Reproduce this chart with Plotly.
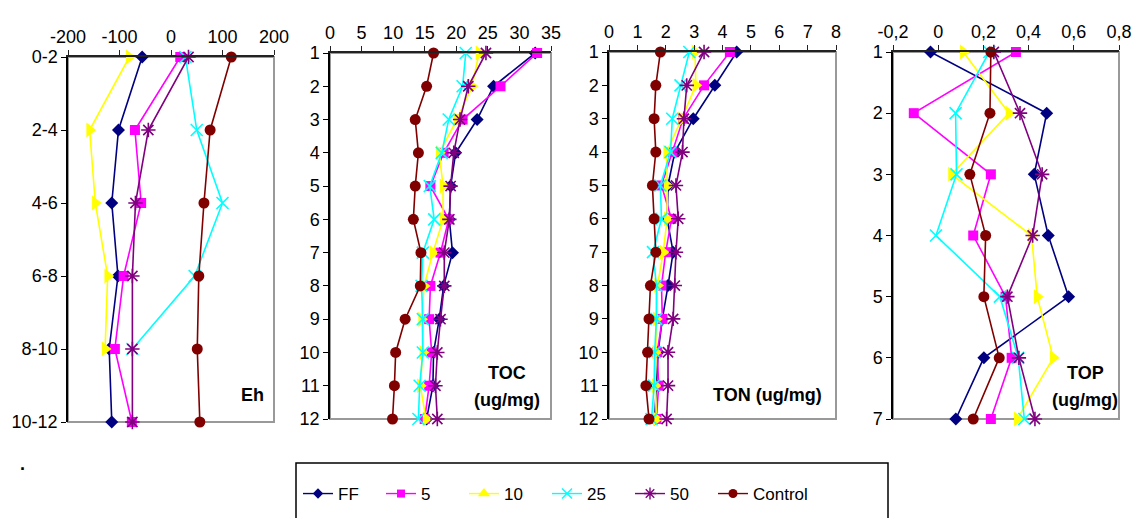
import plotly.graph_objects as go

W, H = 1139, 518

series = ["FF", "5", "10", "25", "50", "Control"]
colors = {"FF": "#000080", "5": "#FF00FF", "10": "#FFFF00", "25": "#00FFFF", "50": "#800080", "Control": "#800000"}
symbols = {"FF": "diamond", "5": "square", "10": "triangle-right", "25": "x-thin-open", "50": "asterisk-open", "Control": "circle"}
legend_symbols = {"FF": "diamond", "5": "square", "10": "triangle-up", "25": "x-thin-open", "50": "asterisk-open", "Control": "circle"}
sizes = {"FF": 10, "5": 10, "10": 13, "25": 12, "50": 12, "Control": 11}

# Eh panel
eh_depths = ["0-2", "2-4", "4-6", "6-8", "8-10", "10-12"]
eh = {
    "FF": [-56, -102, -115, -103, -120, -115],
    "5": [18, -70, -58, -92, -109, -76],
    "10": [-81, -158, -147, -123, -128, None],
    "25": [28, 50, 100, 46, -75, None],
    "50": [34, -44, -69, -75, -75, -75],
    "Control": [117, 76, 64, 54, 51, 56],
}

# TOC panel
toc_depths = list(range(1, 13))
toc = {
    "FF": [32.5, 25.9, 23.3, 19.9, 19.1, 18.9, 19.4, 18.0, 17.3, 16.4, 16.3, 15.3],
    "5": [32.8, 27.0, 21.0, 18.0, 15.9, 18.8, 17.5, 15.9, 15.7, 16.1, 15.7, 15.0],
    "10": [23.6, 22.5, 20.1, 17.3, 17.9, 17.9, 16.3, 14.9, 14.5, 14.7, 14.3, 15.2],
    "25": [21.5, 21.0, 18.8, 17.7, 15.8, 16.5, 14.7, 14.5, 14.7, 14.7, 14.2, 14.0],
    "50": [24.7, 21.9, 20.6, 19.6, 19.1, 18.9, 18.1, 18.1, 17.5, 17.0, 16.7, 17.0],
    "Control": [16.4, 15.3, 13.5, 14.0, 13.5, 13.2, 14.4, 14.3, 11.9, 10.4, 10.2, 9.9],
}

# TON panel
ton_depths = list(range(1, 13))
ton = {
    "FF": [4.50, 3.73, 2.97, 2.32, 2.08, 2.05, 2.26, 2.08, 1.88, 1.73, 1.67, 1.61],
    "5": [4.26, 3.35, 2.61, 2.24, 1.85, 2.20, 2.00, 1.85, 1.88, 1.70, 1.75, 1.67],
    "10": [3.03, 3.06, 2.56, 2.03, 2.05, 2.05, 1.91, 1.71, 1.67, 1.65, 1.63, 1.67],
    "25": [2.83, 2.52, 2.23, 2.17, 1.81, 1.85, 1.55, 1.67, 1.67, 1.61, 1.59, 1.50],
    "50": [3.35, 2.74, 2.64, 2.59, 2.36, 2.44, 2.36, 2.32, 2.26, 2.08, 2.08, 2.03],
    "Control": [1.81, 1.65, 1.59, 1.65, 1.53, 1.59, 1.65, 1.46, 1.41, 1.36, 1.30, 1.41],
}

# TOP panel
top_depths = list(range(1, 8))
top = {
    "FF": [-0.034, 0.48, 0.425, 0.487, 0.577, 0.202, 0.078],
    "5": [0.344, -0.108, 0.233, 0.155, 0.298, 0.325, 0.233],
    "10": [0.111, 0.313, 0.059, 0.413, 0.438, 0.509, 0.35],
    "25": [0.226, 0.077, 0.081, -0.01, 0.273, 0.354, 0.381],
    "50": [0.246, 0.362, 0.46, 0.418, 0.306, 0.357, 0.428],
    "Control": [0.233, 0.229, 0.140, 0.21, 0.202, 0.27, 0.155],
}

eh_ticks = [-200, -100, 0, 100, 200]
eh_ticklabels = ["-200", "-100", "0", "100", "200"]
toc_ticks = [0, 5, 10, 15, 20, 25, 30, 35]
ton_ticks = [0, 1, 2, 3, 4, 5, 6, 7, 8]
top_ticks = [-0.2, 0, 0.2, 0.4, 0.6, 0.8]
top_ticklabels = ["-0,2", "0", "0,2", "0,4", "0,6", "0,8"]

FONT = "Liberation Sans, Arial, sans-serif"

fig = go.Figure()

panels = [
    (eh, list(range(len(eh_depths))), "x", "y"),
    (toc, toc_depths, "x2", "y2"),
    (ton, ton_depths, "x3", "y3"),
    (top, top_depths, "x4", "y4"),
]

for data, depths, xa, ya in panels:
    for s in series:
        c = colors[s]
        sym = symbols[s]
        open_sym = sym.endswith("open")
        fig.add_trace(go.Scatter(
            x=data[s], y=depths, xaxis=xa, yaxis=ya,
            mode="lines+markers", showlegend=False,
            line=dict(color=c, width=1.6),
            marker=dict(symbol=sym, size=sizes[s], color=c,
                        line=dict(color=c, width=1.6 if open_sym else 0)),
            connectgaps=False, cliponaxis=False,
        ))

# legend entries
for s in series:
    c = colors[s]
    sym = legend_symbols[s]
    open_sym = sym.endswith("open")
    fig.add_trace(go.Scatter(
        x=[None], y=[None], name=s, mode="lines+markers",
        line=dict(color=c, width=1.4),
        marker=dict(symbol=sym, size=sizes[s] - 2, color=c,
                    line=dict(color=c, width=1.4 if open_sym else 0)),
    ))
# spacer entry so the last label is not clipped
fig.add_trace(go.Scatter(x=[None], y=[None], name=" ", mode="lines",
                         line=dict(color="rgba(0,0,0,0)", width=0)))

def px_x(p):
    return p / W

def px_y(p):
    return 1 - p / H

doms = [
    ((68, 274), (57, 422)),
    ((330, 551), (53, 419)),
    ((609, 836), (52, 419)),
    ((893, 1119), (52, 419)),
]

tickfont = dict(family=FONT, size=18, color="black")
xcfg = [
    dict(range=[-200, 200], tickvals=eh_ticks, ticktext=eh_ticklabels),
    dict(range=[0, 35], tickvals=toc_ticks, ticktext=[str(v) for v in toc_ticks]),
    dict(range=[0, 8], tickvals=ton_ticks, ticktext=[str(v) for v in ton_ticks]),
    dict(range=[-0.2, 0.8], tickvals=top_ticks, ticktext=top_ticklabels),
]
ycfg = [
    dict(range=[5, 0], tickvals=list(range(len(eh_depths))), ticktext=eh_depths),
    dict(range=[12, 1], tickvals=toc_depths, ticktext=[str(v) for v in toc_depths]),
    dict(range=[12, 1], tickvals=ton_depths, ticktext=[str(v) for v in ton_depths]),
    dict(range=[7, 1], tickvals=top_depths, ticktext=[str(v) for v in top_depths]),
]

layout = {}
shapes = []
for i, ((x0, x1), (y0, y1)) in enumerate(doms):
    n = "" if i == 0 else str(i + 1)
    layout["xaxis" + n] = dict(
        domain=[px_x(x0), px_x(x1)], side="top", anchor="y" + n, automargin=False,
        showgrid=False, zeroline=False, showline=True, linecolor="#222222", linewidth=1.5,
        ticks="outside", ticklen=5, tickcolor="#222222", tickfont=tickfont,
        tickmode="array", fixedrange=True, **xcfg[i])
    layout["yaxis" + n] = dict(
        domain=[px_y(y1), px_y(y0)], anchor="x" + n, automargin=False,
        showgrid=False, zeroline=False, showline=True, linecolor="black", linewidth=1.5,
        ticks="outside", ticklen=5, tickcolor="black", tickfont=tickfont,
        tickmode="array", fixedrange=True, **ycfg[i])
    shapes.append(dict(type="rect", xref="x" + n + " domain", yref="y" + n + " domain",
                       x0=0, x1=1, y0=0, y1=1, line=dict(color="#999999", width=2),
                       layer="below"))

# legend box
shapes.append(dict(type="rect", xref="paper", yref="paper",
                   x0=px_x(296), x1=px_x(888), y0=px_y(525), y1=px_y(463),
                   line=dict(color="black", width=1.5), layer="below"))

afont = dict(family=FONT, size=18, color="black")
annotations = [
    dict(text="<b>Eh</b>", x=px_x(252), y=px_y(395)),
    dict(text="<b>TOC</b>", x=px_x(507), y=px_y(373)),
    dict(text="<b>(ug/mg)</b>", x=px_x(507), y=px_y(400)),
    dict(text="<b>TON (ug/mg)</b>", x=px_x(767), y=px_y(395)),
    dict(text="<b>TOP</b>", x=px_x(1085), y=px_y(373)),
    dict(text="<b>(ug/mg)</b>", x=px_x(1085), y=px_y(400)),
    dict(text="<b>.</b>", x=px_x(22), y=px_y(464)),
]
for a in annotations:
    a.update(xref="paper", yref="paper", showarrow=False, font=afont,
             xanchor="center", yanchor="middle")

fig.update_layout(
    width=W, height=H, margin=dict(l=0, r=0, t=0, b=0),
    paper_bgcolor="white", plot_bgcolor="white",
    font=dict(family=FONT, size=14, color="black"),
    showlegend=True,
    legend=dict(orientation="h", x=px_x(298), y=px_y(494), xanchor="left", yanchor="middle",
                font=dict(family=FONT, size=17, color="black"),
                bgcolor="rgba(0,0,0,0)", borderwidth=0,
                entrywidth=38, entrywidthmode="pixels", itemwidth=30,
                tracegroupgap=0),
    shapes=shapes, annotations=annotations,
    **layout,
)

fig.write_html("out.html", config={"displayModeBar": False},
               post_script="document.body.style.margin='0';document.body.style.overflow='hidden';")
